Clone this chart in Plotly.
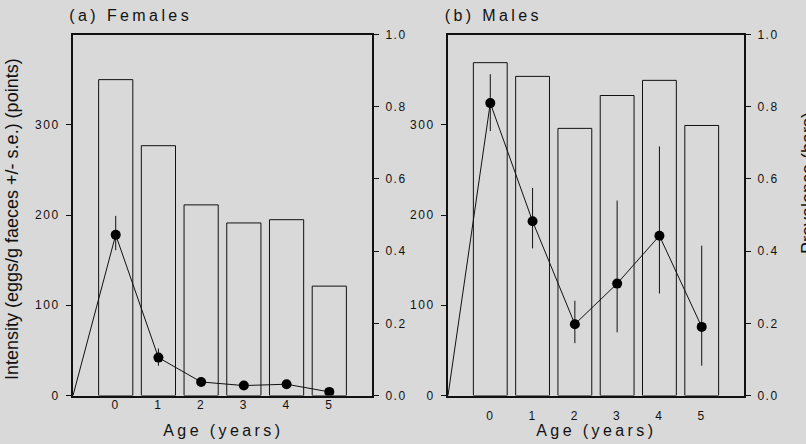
import plotly.graph_objects as go

# ---- data ----
ages = [0, 1, 2, 3, 4, 5]
age_tick_labels = ["0", "1", "2", "3", "4", "5"]
line_start_age = -1
line_start_intensity = 0

female_prevalence = [0.875, 0.692, 0.528, 0.478, 0.487, 0.303]
female_intensity = [178, 42, 15, 11, 12.5, 4]
female_se_plus = [21, 10, 2, 1, 1, 1]
female_se_minus = [17, 9, 2, 1, 1, 1]

male_prevalence = [0.922, 0.884, 0.740, 0.831, 0.873, 0.748]
male_intensity = [324, 193, 79, 124, 177, 76]
male_se_plus = [32, 37, 26, 92, 99, 90]
male_se_minus = [31, 30, 21, 54, 64, 43]

intensity_ticks = [0, 100, 200, 300]
prevalence_ticks = [0.0, 0.2, 0.4, 0.6, 0.8, 1.0]

panel_titles = ["(a) Females", "(b) Males"]
x_title = "Age (years)"
y_left_title = "Intensity (eggs/g faeces +/- s.e.) (points)"
y_right_title = "Prevalence (bars)"

BG = "#d9d9d9"
INK = "#111111"
FONT = "Liberation Sans, Arial, Helvetica, sans-serif"
W, H = 806, 444

fig = go.Figure()

panels = [
    dict(x="x", yi="y", yp="y2", prev=female_prevalence, inten=female_intensity,
         ep=female_se_plus, em=female_se_minus),
    dict(x="x2", yi="y3", yp="y4", prev=male_prevalence, inten=male_intensity,
         ep=male_se_plus, em=male_se_minus),
]

for p in panels:
    fig.add_trace(go.Bar(
        x=ages, y=p["prev"], width=0.8, xaxis=p["x"], yaxis=p["yp"],
        marker=dict(color="rgba(0,0,0,0)", line=dict(color=INK, width=1)),
        showlegend=False, hoverinfo="skip"))
    fig.add_trace(go.Scatter(
        x=[line_start_age] + ages, y=[line_start_intensity] + p["inten"],
        mode="lines", line=dict(color=INK, width=1),
        xaxis=p["x"], yaxis=p["yi"], showlegend=False))
    fig.add_trace(go.Scatter(
        x=ages, y=p["inten"], mode="markers",
        marker=dict(color="black", size=10, symbol="circle"),
        error_y=dict(type="data", symmetric=False, array=p["ep"], arrayminus=p["em"],
                     color=INK, thickness=1, width=0),
        xaxis=p["x"], yaxis=p["yi"], showlegend=False))

ydom = [1 - 395.5 / H, 1 - 34.5 / H]
xdoms = [[73 / W, 372 / W], [448 / W, 744 / W]]

def xax(dom, anchor, standoff):
    return dict(domain=dom, anchor=anchor, range=[-1, 6], tickvals=ages, ticktext=age_tick_labels,
                ticks="", showline=True, mirror=True, linecolor=INK, linewidth=2,
                showgrid=False, zeroline=False, ticklabelstandoff=standoff, automargin=False,
                tickfont=dict(family=FONT, size=12, color=INK))

def yint(anchor):
    return dict(domain=ydom, anchor=anchor, range=[0, 400], tickvals=intensity_ticks,
                ticks="outside", ticklen=5, tickwidth=1, tickcolor=INK,
                showline=True, linecolor=INK, linewidth=2, showgrid=False, zeroline=False,
                ticklabelstandoff=4, automargin=False,
                tickfont=dict(family=FONT, size=12, color=INK))

def yprev(anchor, overlay):
    return dict(domain=ydom, anchor=anchor, overlaying=overlay, side="right", range=[0, 1],
                tickvals=prevalence_ticks, tickformat=".1f",
                ticks="outside", ticklen=5, tickwidth=1, tickcolor=INK,
                showline=True, linecolor=INK, linewidth=2, showgrid=False, zeroline=False,
                ticklabelstandoff=4, automargin=False,
                tickfont=dict(family=FONT, size=12, color=INK))

fig.update_layout(
    width=W, height=H, autosize=False,
    margin=dict(l=0, r=0, t=0, b=0, pad=0, autoexpand=False),
    paper_bgcolor=BG, plot_bgcolor=BG,
    font=dict(family=FONT, color=INK),
    barmode="overlay", showlegend=False,
    xaxis=xax(xdoms[0], "y", -3),
    xaxis2=xax(xdoms[1], "y3", 8),
    yaxis=yint("x"),
    yaxis2=yprev("x", "y"),
    yaxis3=yint("x2"),
    yaxis4=yprev("x2", "y3"),
)

ann = []
for title, cx in zip(panel_titles, [130, 493.5]):
    ann.append(dict(text=title, x=cx / W, y=1 - 16 / H, xref="paper", yref="paper",
                    xanchor="center", yanchor="middle", showarrow=False,
                    font=dict(family=FONT, size=16, color=INK)))
for cx in [223, 596]:
    ann.append(dict(text=x_title, x=cx / W, y=1 - 430 / H, xref="paper", yref="paper",
                    xanchor="center", yanchor="middle", showarrow=False,
                    font=dict(family=FONT, size=16, color=INK)))
ann.append(dict(text=y_left_title, x=12 / W, y=1 - 219 / H, xref="paper", yref="paper",
                xanchor="center", yanchor="middle", textangle=-90, showarrow=False,
                font=dict(family=FONT, size=18, color=INK)))
ann.append(dict(text=y_right_title, x=808 / W, y=1 - 183 / H, xref="paper", yref="paper",
                xanchor="center", yanchor="middle", textangle=-90, showarrow=False,
                font=dict(family=FONT, size=18, color=INK)))
fig.update_layout(annotations=ann)

post = """
document.querySelectorAll('.annotation-text').forEach(function(e){
  var t = e.textContent;
  if (t.indexOf('Intensity') < 0 && t.indexOf('Prevalence') < 0) { e.setAttribute('letter-spacing', '3.4px'); }
});
document.querySelectorAll('g.xtick text, g.x2tick text, g.ytick text, g.y2tick text, g.y3tick text, g.y4tick text').forEach(function(e){
  e.setAttribute('letter-spacing', '1.5px');
});
"""
fig.write_html("out.html", post_script=post)
